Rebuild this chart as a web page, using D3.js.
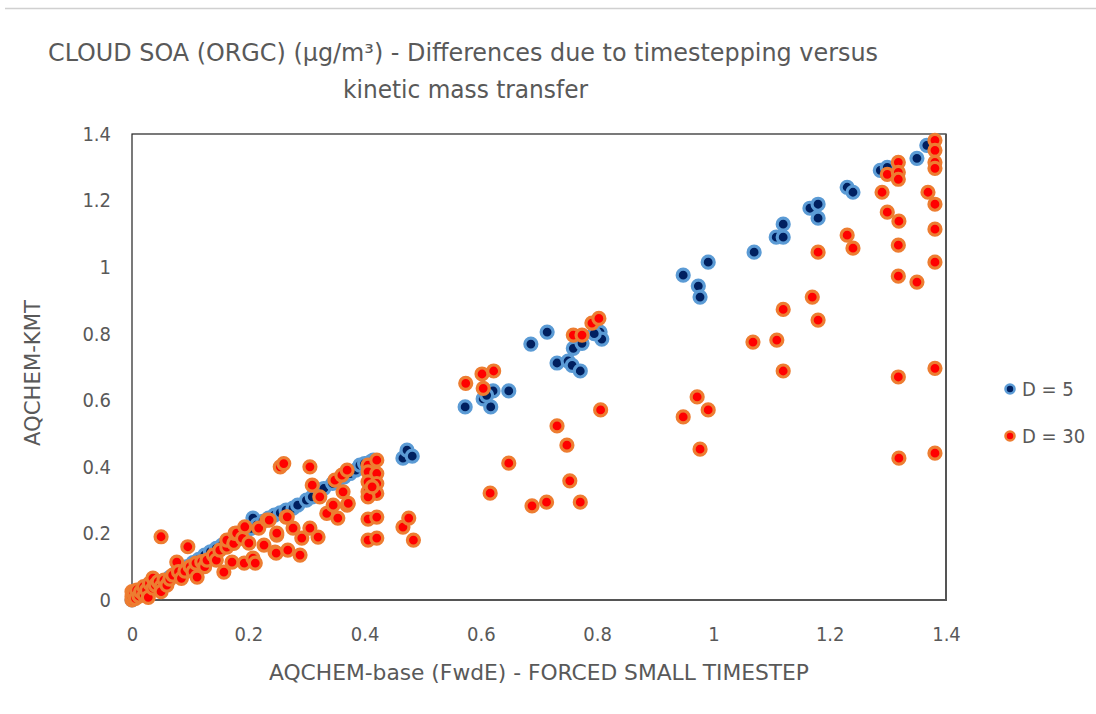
<!DOCTYPE html>
<html>
<head>
<meta charset="utf-8">
<script src="https://cdn.jsdelivr.net/npm/d3@7"></script>
<style>
  body { margin: 0; background: #fff; }
  text { font-family: "Liberation Sans Narrow", "DejaVu Sans Condensed", "Noto Sans", sans-serif; fill: #595959; }
</style>
</head>
<body>
<div id="chart"></div>
<script>
// chart values
const titleLines = ["CLOUD SOA (ORGC) (\u00b5g/m\u00b3) -  Differences due to timestepping versus", "kinetic mass transfer"];
const xLabel = "AQCHEM-base (FwdE) - FORCED SMALL TIMESTEP";
const yLabel = "AQCHEM-KMT";
const tickValues = [0, 0.2, 0.4, 0.6, 0.8, 1, 1.2, 1.4];
const seriesNames = ["D = 5", "D = 30"];

const d5Points = [
  [0,0],[0.003,0.004],[0.006,0.008],[0.01,0.012],[0.015,0.016],[0.02,0.022],[0.028,0.03],[0.035,0.038],
  [0.045,0.048],[0.055,0.058],[0.065,0.068],[0.075,0.08],[0.085,0.09],[0.095,0.1],[0.105,0.112],[0.115,0.122],
  [0.125,0.135],[0.135,0.145],[0.145,0.155],[0.155,0.165],[0.165,0.176],[0.175,0.186],[0.185,0.196],[0.195,0.205],
  [0.205,0.215],[0.208,0.246],[0.215,0.226],[0.225,0.236],[0.235,0.246],[0.245,0.255],[0.255,0.262],[0.265,0.27],
  [0.277,0.276],[0.285,0.285],[0.3,0.3],[0.31,0.31],[0.323,0.33],[0.33,0.335],[0.345,0.35],[0.355,0.36],
  [0.365,0.37],[0.375,0.38],[0.385,0.39],[0.392,0.405],[0.4,0.41],[0.41,0.415],[0.415,0.42],
  [0.466,0.426],[0.473,0.45],[0.482,0.432],
  [0.573,0.58],[0.604,0.604],[0.617,0.58],[0.621,0.628],[0.648,0.628],[0.61,0.615],
  [0.686,0.769],[0.714,0.805],[0.731,0.712],[0.75,0.718],[0.757,0.705],[0.771,0.688],[0.759,0.756],[0.774,0.771],
  [0.805,0.805],[0.808,0.784],[0.795,0.8],
  [0.948,0.976],[0.974,0.943],[0.977,0.91],[0.991,1.015],
  [1.07,1.045],[1.108,1.09],[1.12,1.09],[1.12,1.129],
  [1.166,1.177],[1.18,1.189],[1.18,1.147],
  [1.23,1.24],[1.24,1.225],[1.287,1.291],[1.299,1.3],[1.35,1.327],[1.367,1.366]
];

const d30Points = [
  [0,0],[0,0.01],[0,0.025],[0.003,0.02],[0.006,0.005],[0.008,0.03],[0.012,0.012],[0.015,0.025],[0.02,0.04],
  [0.021,0.015],[0.025,0.03],[0.028,0.008],[0.03,0.05],[0.036,0.036],[0.036,0.066],[0.04,0.045],[0.045,0.055],
  [0.05,0.04],[0.05,0.025],[0.055,0.06],[0.06,0.045],[0.065,0.063],[0.07,0.075],[0.077,0.114],[0.08,0.085],
  [0.085,0.065],[0.091,0.087],[0.096,0.16],[0.1,0.1],[0.105,0.085],[0.11,0.111],[0.112,0.069],[0.12,0.115],
  [0.125,0.1],[0.129,0.12],[0.14,0.135],[0.145,0.12],[0.151,0.15],[0.158,0.084],[0.163,0.159],
  [0.163,0.18],[0.172,0.114],[0.175,0.17],[0.177,0.2],[0.18,0.201],[0.19,0.185],[0.193,0.111],[0.194,0.22],
  [0.201,0.171],[0.208,0.126],[0.212,0.111],[0.218,0.216],[0.227,0.165],[0.232,0.24],[0.236,0.24],
  [0.246,0.144],[0.248,0.141],[0.249,0.195],[0.249,0.201],[0.255,0.4],[0.261,0.41],[0.265,0.249],[0.267,0.25],
  [0.268,0.15],[0.277,0.216],[0.289,0.135],[0.292,0.186],[0.306,0.216],[0.306,0.4],[0.31,0.345],[0.32,0.189],
  [0.323,0.31],[0.335,0.26],[0.346,0.285],[0.349,0.36],[0.354,0.246],[0.361,0.375],[0.363,0.325],[0.37,0.39],
  [0.37,0.285],[0.372,0.29],
  [0.05,0.19],
  [0.406,0.405],[0.421,0.42],[0.406,0.385],[0.421,0.38],[0.406,0.355],[0.421,0.35],[0.406,0.325],[0.421,0.32],
  [0.406,0.31],[0.413,0.34],[0.406,0.243],[0.421,0.249],[0.406,0.18],[0.421,0.186],
  [0.466,0.219],[0.476,0.246],[0.484,0.18],
  [0.574,0.651],[0.602,0.679],[0.604,0.636],[0.622,0.688],[0.616,0.321],[0.648,0.411],[0.688,0.283],[0.713,0.294],
  [0.731,0.523],[0.748,0.465],[0.753,0.358],[0.771,0.294],[0.759,0.796],[0.774,0.796],[0.791,0.832],[0.803,0.846],
  [0.806,0.571],
  [0.948,0.55],[0.972,0.61],[0.977,0.453],[0.991,0.571],
  [1.068,0.775],[1.109,0.781],[1.12,0.688],[1.12,0.873],[1.17,0.91],[1.18,0.841],[1.18,1.045],
  [1.23,1.096],[1.24,1.057],[1.29,1.225],[1.299,1.165],[1.299,1.279],[1.318,1.315],[1.318,1.285],[1.318,1.264],
  [1.319,1.138],[1.318,1.066],[1.318,0.973],[1.318,0.67],[1.319,0.426],[1.35,0.955],[1.369,1.225],
  [1.381,1.381],[1.381,1.351],[1.381,1.315],[1.381,1.297],[1.381,1.189],[1.381,1.114],[1.381,1.015],
  [1.381,0.696],[1.381,0.441]
];

const W = 1096, H = 714;
const plot = { left: 132, right: 946, top: 134, bottom: 600 };

const svg = d3.select("#chart").append("svg")
  .attr("width", W)
  .attr("height", H);

// thin rule across the top of the picture
svg.append("line")
  .attr("x1", 5).attr("x2", W)
  .attr("y1", 8.5).attr("y2", 8.5)
  .style("stroke", "#d0d0d0")
  .style("stroke-width", 1.5);

const x = d3.scaleLinear().domain([0, 1.4]).range([plot.left, plot.right]);
const y = d3.scaleLinear().domain([0, 1.4]).range([plot.bottom, plot.top]);
const fmt = d => d3.format("~g")(d);

// title
svg.append("text")
  .attr("x", 48).attr("y", 61)
  .attr("textLength", 830).attr("lengthAdjust", "spacingAndGlyphs")
  .style("font-size", "24px")
  .text(titleLines[0]);
svg.append("text")
  .attr("x", 343).attr("y", 98)
  .attr("textLength", 245).attr("lengthAdjust", "spacingAndGlyphs")
  .style("font-size", "24px")
  .text(titleLines[1]);

// axes
const xAxis = svg.append("g")
  .attr("transform", `translate(0,${plot.bottom})`)
  .call(d3.axisBottom(x).tickValues(tickValues).tickFormat(fmt).tickSize(0).tickPadding(27));
const yAxis = svg.append("g")
  .attr("transform", `translate(${plot.left},0)`)
  .call(d3.axisLeft(y).tickValues(tickValues).tickFormat(fmt).tickSize(0).tickPadding(21));
[xAxis, yAxis].forEach(g => {
  g.select(".domain").remove();
  g.selectAll("text").style("font-size", "20px").style("font-family", null).attr("fill", "#595959");
});

// plot frame
svg.append("rect")
  .attr("x", plot.left).attr("y", plot.top)
  .attr("width", plot.right - plot.left)
  .attr("height", plot.bottom - plot.top)
  .style("fill", "none")
  .style("stroke", "#222")
  .style("stroke-width", 1.2);
svg.append("line")
  .attr("x1", plot.left).attr("x2", plot.right + 1)
  .attr("y1", plot.bottom).attr("y2", plot.bottom)
  .style("stroke", "#555").style("stroke-width", 2);
svg.append("line")
  .attr("x1", plot.right).attr("x2", plot.right)
  .attr("y1", plot.top).attr("y2", plot.bottom)
  .style("stroke", "#555").style("stroke-width", 2);

// axis titles
svg.append("text")
  .attr("x", (plot.left + plot.right) / 2).attr("y", 680)
  .attr("text-anchor", "middle")
  .attr("textLength", 540).attr("lengthAdjust", "spacingAndGlyphs")
  .style("font-size", "21px")
  .text(xLabel);
svg.append("text")
  .attr("transform", `translate(40,${(plot.top + plot.bottom) / 2 + 6}) rotate(-90)`)
  .attr("text-anchor", "middle")
  .attr("textLength", 146).attr("lengthAdjust", "spacingAndGlyphs")
  .style("font-size", "21px")
  .text(yLabel);

// markers
const styles = [
  { fill: "#002060", stroke: "#5B9BD5" },
  { fill: "#FF0000", stroke: "#ED7D31" }
];
[d5Points, d30Points].forEach((pts, i) => {
  svg.append("g").selectAll("circle")
    .data(pts)
    .join("circle")
    .attr("cx", d => x(d[0]))
    .attr("cy", d => y(d[1]))
    .attr("r", 6)
    .style("fill", styles[i].fill)
    .style("stroke", styles[i].stroke)
    .style("stroke-width", 3.2);
});

// legend
const legend = svg.append("g").attr("transform", "translate(1010,389)");
seriesNames.forEach((name, i) => {
  const row = legend.append("g").attr("transform", `translate(0,${i * 47})`);
  row.append("circle")
    .attr("r", 4.5)
    .style("fill", styles[i].fill)
    .style("stroke", styles[i].stroke)
    .style("stroke-width", 2.6);
  row.append("text")
    .attr("x", 12).attr("y", 7)
    .style("font-size", "20px")
    .text(name);
});
</script>
</body>
</html>
